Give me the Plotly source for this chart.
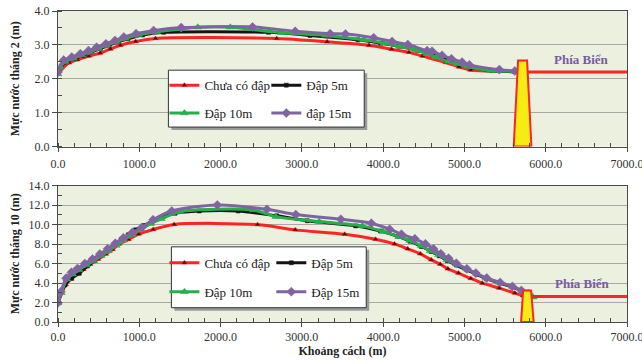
import plotly.graph_objects as go
from plotly.subplots import make_subplots

# ---------------- data: top chart (tháng 2) ----------------
x_red_2 = [0, 135, 237, 380, 520, 645, 767, 955, 1200, 2690, 3310, 3826, 4103, 4318, 4484, 4770, 4934, 5074, 5620]
y_red_2 = [2.15, 2.47, 2.56, 2.67, 2.76, 2.88, 2.99, 3.10, 3.19, 3.19, 3.09, 2.99, 2.87, 2.78, 2.67, 2.48, 2.35, 2.26, 2.21]

x_blk_2 = [0, 40, 110, 210, 310, 410, 520, 630, 740, 860, 1040, 1300, 2590, 3100, 3690, 3970, 4200, 4420, 4600, 4780, 4930, 5080, 5330, 5620]
y_blk_2 = [2.18, 2.38, 2.50, 2.60, 2.69, 2.79, 2.89, 2.99, 3.09, 3.18, 3.29, 3.37, 3.37, 3.28, 3.15, 3.05, 2.96, 2.84, 2.72, 2.55, 2.43, 2.34, 2.24, 2.21]

x_grn_2 = [0, 30, 90, 190, 290, 390, 495, 600, 715, 830, 990, 1210, 1720, 2120, 2745, 3290, 3760, 4010, 4200, 4400, 4535, 4655, 4800, 4910, 5035, 5320, 5620]
y_grn_2 = [2.14, 2.35, 2.50, 2.60, 2.70, 2.79, 2.89, 2.99, 3.09, 3.19, 3.30, 3.38, 3.52, 3.52, 3.36, 3.28, 3.15, 3.05, 2.96, 2.85, 2.74, 2.64, 2.51, 2.44, 2.36, 2.24, 2.22]

x_pur_2 = [0, 70, 170, 275, 375, 475, 590, 700, 810, 960, 1176, 1516, 2393, 2918, 3348, 3536, 3884, 4110, 4303, 4541, 4602, 4725, 4840, 4971, 5061, 5430, 5620]
y_pur_2 = [2.20, 2.55, 2.64, 2.74, 2.83, 2.93, 3.03, 3.13, 3.23, 3.33, 3.42, 3.51, 3.53, 3.40, 3.33, 3.32, 3.21, 3.10, 3.01, 2.83, 2.81, 2.69, 2.59, 2.49, 2.41, 2.27, 2.23]

dam_x_2 = [5606, 5660, 5771, 5824, 5606]
dam_y_2 = [0, 2.54, 2.54, 0, 0]
sea_x_2 = [5775, 7000]
sea_y_2 = [2.2, 2.2]

# ---------------- data: bottom chart (tháng 10) ----------------
x_red_10 = [0, 96, 158, 233, 312, 396, 492, 588, 671, 750, 867, 992, 1171, 1429, 2455, 2918, 3527, 3906, 4139, 4302, 4457, 4592, 4702, 4796, 4927, 5078, 5220, 5429, 5620, 5722]
y_red_10 = [1.92, 3.85, 4.40, 4.95, 5.40, 5.94, 6.45, 6.97, 7.45, 8.00, 8.48, 9.03, 9.50, 10.02, 10.00, 9.46, 9.01, 8.50, 8.02, 7.51, 7.00, 6.38, 5.94, 5.46, 5.02, 4.47, 3.99, 3.48, 2.97, 2.70]

x_blk_10 = [0, 86, 168, 262, 361, 447, 529, 611, 693, 775, 865, 955, 1057, 1164, 1295, 1439, 1738, 2217, 2689, 3066, 3661, 3967, 4180, 4330, 4470, 4590, 4690, 4790, 4900, 5030, 5150, 5270, 5430, 5590, 5720]
y_blk_10 = [2.00, 3.80, 4.50, 5.00, 5.75, 6.30, 6.80, 7.34, 7.85, 8.43, 8.95, 9.46, 9.90, 10.41, 10.82, 11.16, 11.40, 11.40, 10.90, 10.40, 9.87, 9.35, 8.80, 8.30, 7.75, 7.25, 6.80, 6.30, 5.85, 5.35, 4.90, 4.45, 4.00, 3.60, 3.10]

x_grn_10 = [0, 40, 110, 180, 260, 350, 440, 530, 620, 715, 810, 910, 1020, 1140, 1270, 1500, 2400, 2680, 3213, 3743, 4000, 4192, 4327, 4469, 4580, 4682, 4784, 4898, 5029, 5151, 5265, 5429, 5592, 5722, 5845]
y_grn_10 = [1.95, 3.00, 4.40, 4.90, 5.35, 5.85, 6.30, 6.80, 7.30, 7.85, 8.40, 8.95, 9.50, 10.10, 10.60, 11.33, 11.50, 10.82, 10.31, 9.87, 9.29, 8.77, 8.36, 7.82, 7.30, 6.90, 6.38, 5.94, 5.43, 4.95, 4.51, 4.06, 3.65, 3.14, 2.55]

x_pur_10 = [0, 35, 100, 165, 240, 330, 425, 515, 610, 705, 805, 915, 1030, 1170, 1400, 1960, 2570, 2925, 3480, 3855, 4080, 4225, 4390, 4520, 4620, 4710, 4805, 4900, 5030, 5140, 5275, 5440, 5590, 5700, 5785]
y_pur_10 = [1.97, 3.10, 4.50, 5.10, 5.50, 6.00, 6.47, 6.98, 7.52, 8.08, 8.65, 9.20, 9.70, 10.50, 11.40, 12.02, 11.57, 11.03, 10.55, 10.14, 9.53, 9.01, 8.54, 8.02, 7.51, 7.00, 6.55, 6.04, 5.46, 5.02, 4.51, 4.06, 3.65, 3.24, 2.90]

dam_x_10 = [5697, 5722, 5820, 5852, 5697]
dam_y_10 = [0, 3.24, 3.24, 0, 0]
sea_x_10 = [5825, 7000]
sea_y_10 = [2.62, 2.62]

names_2 = ["Chưa có đập", "Đập 5m", "Đập 10m", "đập 15m"]
names_10 = ["Chưa có đập", "Đập 5m", "Đập 10m", "Đập 15m"]
x_ticks = [0, 1000, 2000, 3000, 4000, 5000, 6000, 7000]

# ---------------- styling ----------------
SERIF = "Liberation Serif"
RED = "#FF2323"
BLK = "#141414"
GRN = "#22B04C"
PUR = "#8064A2"
styles = [
    dict(color=RED, symbol="triangle-up", size=5, mcolor="#5a0000"),
    dict(color=BLK, symbol="square", size=4, mcolor=BLK),
    dict(color=GRN, symbol="triangle-up", size=7, mcolor=GRN),
    dict(color=PUR, symbol="diamond", size=7, mcolor=PUR),
]

fig = make_subplots(rows=2, cols=1, vertical_spacing=0.13)

def add_series(row, xs, ys, names, legs, tag):
    for i, (x, y, n) in enumerate(zip(xs, ys, names)):
        s = styles[i]
        fig.add_trace(go.Scatter(
            x=x, y=y, name=n, mode="lines+markers",
            line=dict(color=s["color"], width=3, shape="spline", smoothing=0.8),
            marker=dict(symbol=s["symbol"], size=s["size"], color=s["mcolor"],
                        line=dict(color=s["color"], width=0.5)),
            legend=legs[i], legendgroup=f"{tag}{i}",
        ), row=row, col=1)

add_series(1, [x_red_2, x_blk_2, x_grn_2, x_pur_2], [y_red_2, y_blk_2, y_grn_2, y_pur_2],
           names_2, ["legend", "legend2", "legend", "legend2"], "a")
add_series(2, [x_red_10, x_blk_10, x_grn_10, x_pur_10], [y_red_10, y_blk_10, y_grn_10, y_pur_10],
           names_10, ["legend3", "legend4", "legend3", "legend4"], "b")

for row, dx, dy, sx, sy in [(1, dam_x_2, dam_y_2, sea_x_2, sea_y_2),
                            (2, dam_x_10, dam_y_10, sea_x_10, sea_y_10)]:
    fig.add_trace(go.Scatter(x=sx, y=sy, mode="lines", line=dict(color=RED, width=3),
                             showlegend=False, hoverinfo="skip"), row=row, col=1)
    fig.add_trace(go.Scatter(x=dx, y=dy, mode="lines", fill="toself", fillcolor="#F6EC14",
                             line=dict(color=RED, width=2), showlegend=False,
                             hoverinfo="skip"), row=row, col=1)

# The page body margin is removed (see post_script) so the figure fills the window.
W, H = 642, 364
# plot area in window pixels: x 57.5..627, top plot 10.7..146.5, bottom plot 185.7..322.3
ML = 57.5
MR = W - 627
MT = 10.7
MB = H - 322.3
PW, PH = W - ML - MR, H - MT - MB

def px(xs):
    return (xs - ML) / PW

def py(ys):
    return (H - MB - ys) / PH

axis_common = dict(
    showline=True, linecolor="#4a4a4a", linewidth=1, mirror=True,
    ticks="outside", tickcolor="#4a4a4a",
    tickfont=dict(family=SERIF, size=12, color="#333333"),
    zeroline=False, automargin=False, ticklabeloverflow="allow",
)

fig.update_xaxes(range=[0, 7000], tickvals=x_ticks, tickformat=".1f", showgrid=False, ticklen=4,
                 minor=dict(dtick=200, ticks="inside", ticklen=4, tickcolor="#4a4a4a"),
                 **axis_common)
fig.update_yaxes(showgrid=True, gridcolor="#A8A8A8", gridwidth=1, tickformat=".1f", ticklen=5,
                 **axis_common)

fig.update_yaxes(range=[0, 4], dtick=1, minor=dict(dtick=0.5, ticks="inside", ticklen=4, tickcolor="#4a4a4a"),
                 domain=[py(146.5), 1.0], row=1, col=1,
                 title=dict(text="Mực nước tháng 2 (m)", standoff=12,
                            font=dict(family=SERIF, size=12, color="#222", weight="bold")))
fig.update_yaxes(range=[0, 14], dtick=2, minor=dict(dtick=1, ticks="inside", ticklen=4, tickcolor="#4a4a4a"),
                 domain=[0.0, py(185.7)], row=2, col=1,
                 title=dict(text="Mực nước tháng 10 (m)", standoff=6,
                            font=dict(family=SERIF, size=12, color="#222", weight="bold")))
fig.update_xaxes(ticklabelstandoff=2, row=1, col=1)
fig.update_xaxes(row=2, col=1, ticklabelstandoff=0,
                 title=dict(text="Khoảng cách (m)", standoff=2,
                            font=dict(family=SERIF, size=12, color="#222", weight="bold")))

# legend boxes (window pixel coordinates)
shapes = []
for (l, r, t, b) in [(168, 364, 70, 127), (171, 366, 247, 308)]:
    shapes.append(dict(type="rect", xref="paper", yref="paper", layer="above",
                       x0=px(l + 3), x1=px(r + 3), y0=py(b + 3), y1=py(t + 3),
                       fillcolor="#9a9a9a", line=dict(width=0)))
    shapes.append(dict(type="rect", xref="paper", yref="paper", layer="above",
                       x0=px(l), x1=px(r), y0=py(b), y1=py(t),
                       fillcolor="white", line=dict(color="#333333", width=1)))

leg_font = dict(family=SERIF, size=13, color="#222")
def leg(xs, ys, gap):
    return dict(x=px(xs), y=py(ys), xanchor="left", yanchor="top", bgcolor="rgba(0,0,0,0)",
                borderwidth=0, font=leg_font, tracegroupgap=gap, itemwidth=30)

ann_font = dict(family=SERIF, size=13, color="#7A5AA6", weight="bold")
fig.update_layout(
    width=W, height=H, margin=dict(l=ML, r=MR, t=MT, b=MB),
    paper_bgcolor="white", plot_bgcolor="#EBF1DE",
    shapes=shapes,
    legend=leg(164, 70, 8), legend2=leg(266, 70, 8),
    legend3=leg(164, 248, 9), legend4=leg(271, 248, 9),
    annotations=[
        dict(x=6437, y=2.56, xref="x", yref="y", text="Phía Biển", showarrow=False, font=ann_font),
        dict(x=6454, y=3.95, xref="x2", yref="y2", text="Phía Biển", showarrow=False, font=ann_font),
    ],
)

fig.write_html("out.html", config={"displayModeBar": False},
               post_script="document.body.style.margin='0';document.body.style.overflow='hidden';")
